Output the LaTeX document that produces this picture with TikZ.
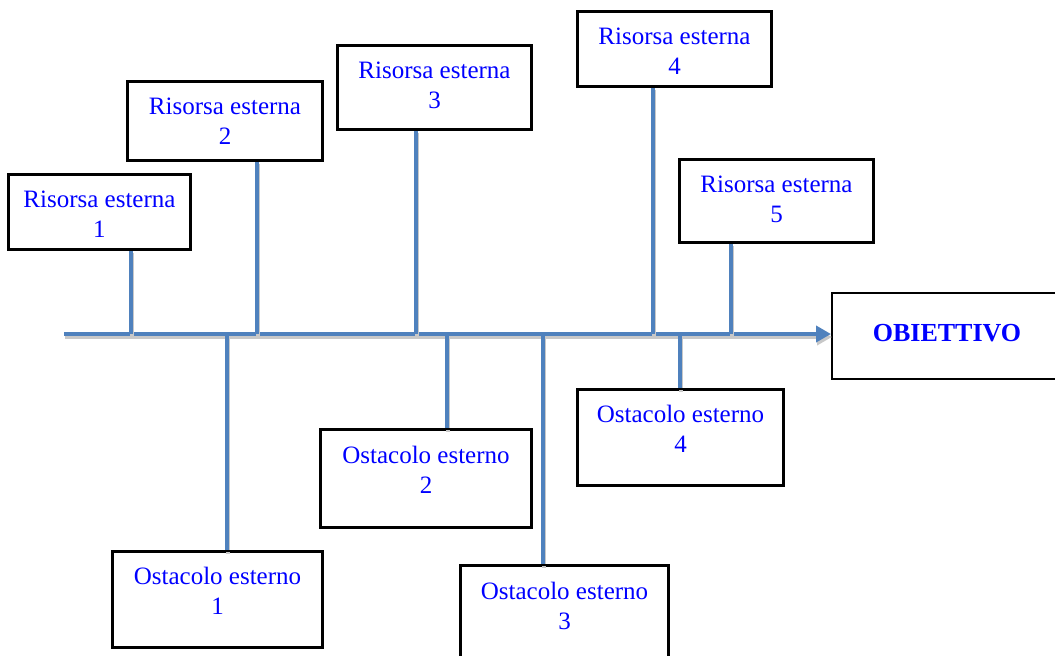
\documentclass[tikz,border=0pt]{standalone}
\usepackage{fontspec}
\setmainfont{Liberation Serif}
\usetikzlibrary{arrows.meta}
\definecolor{spineblue}{HTML}{4F81BD}
\definecolor{txtblue}{HTML}{0000FF}
\definecolor{shadowgray}{HTML}{C8C8C8}
\newcommand{\boxtext}[4]{\parbox[c][#2pt][t]{#1pt}{\centering\rule{0pt}{#3pt}#4}}
\tikzset{
  fbox/.style={draw=black, line width=2pt, fill=white, inner sep=0pt,
    text=txtblue, font=\fontsize{25}{30}\selectfont},
  spine/.style={draw=spineblue, line width=4.8pt,
    preaction={draw=shadowgray, line width=4.8pt, transform canvas={shift={(1pt,-3pt)}}}},
}
\begin{document}
\begin{tikzpicture}[x=1pt,y=-1pt]
\useasboundingbox (0,0) rectangle (1055,656);
\clip (0,0) rectangle (1055,656);
% box nodes (placed first for anchors, redrawn on top later)
\node[fbox] (obj) at (947,336) {\boxtext{230}{86}{48}{\fontsize{26}{30}\selectfont\bfseries OBIETTIVO}};
% spine
\coordinate (s) at (64,334);
\draw[spine, -{Triangle[length=15pt,width=16pt]}] (s) -- (s -| obj.west);
% junctions on the spine
\foreach \n/\x in {j1/131,j2/257,j3/416,j4/653,j5/731,k1/227,k2/447,k3/543,k4/680}
  \coordinate (\n) at (\x,334);
% boxes
\node[fbox] (r1) at (99.5,212) {\boxtext{181}{74}{32}{Risorsa esterna\\1}};
\node[fbox] (r2) at (225,121) {\boxtext{194}{78}{32}{Risorsa esterna\\2}};
\node[fbox] (r3) at (434.5,87.5) {\boxtext{193}{83}{32}{Risorsa esterna\\3}};
\node[fbox] (r4) at (674.5,49) {\boxtext{193}{74}{32}{Risorsa esterna\\4}};
\node[fbox] (r5) at (776.5,201) {\boxtext{193}{82}{32}{Risorsa esterna\\5}};
\node[fbox] (o1) at (217.5,599.5) {\boxtext{209}{95}{32}{Ostacolo esterno\\1}};
\node[fbox] (o2) at (426,478.5) {\boxtext{210}{97}{33}{Ostacolo esterno\\2}};
\node[fbox] (o3) at (564.5,613.5) {\boxtext{207}{95}{33}{Ostacolo esterno\\3}};
\node[fbox] (o4) at (680.5,437.5) {\boxtext{205}{95}{32}{Ostacolo esterno\\4}};
% connectors
\draw[spine] (j1 |- r1.south) -- (j1);
\draw[spine] (j2 |- r2.south) -- (j2);
\draw[spine] (j3 |- r3.south) -- (j3);
\draw[spine] (j4 |- r4.south) -- (j4);
\draw[spine] (j5 |- r5.south) -- (j5);
\draw[spine] (k1) -- (k1 |- o1.north);
\draw[spine] (k2) -- (k2 |- o2.north);
\draw[spine] (k3) -- (k3 |- o3.north);
\draw[spine] (k4) -- (k4 |- o4.north);
% redraw boxes on top of connectors
\foreach \b in {r1,r2,r3,r4,r5,o1,o2,o3,o4}
  \draw[draw=black, line width=2pt] (\b.north west) rectangle (\b.south east);
\end{tikzpicture}
\end{document}
